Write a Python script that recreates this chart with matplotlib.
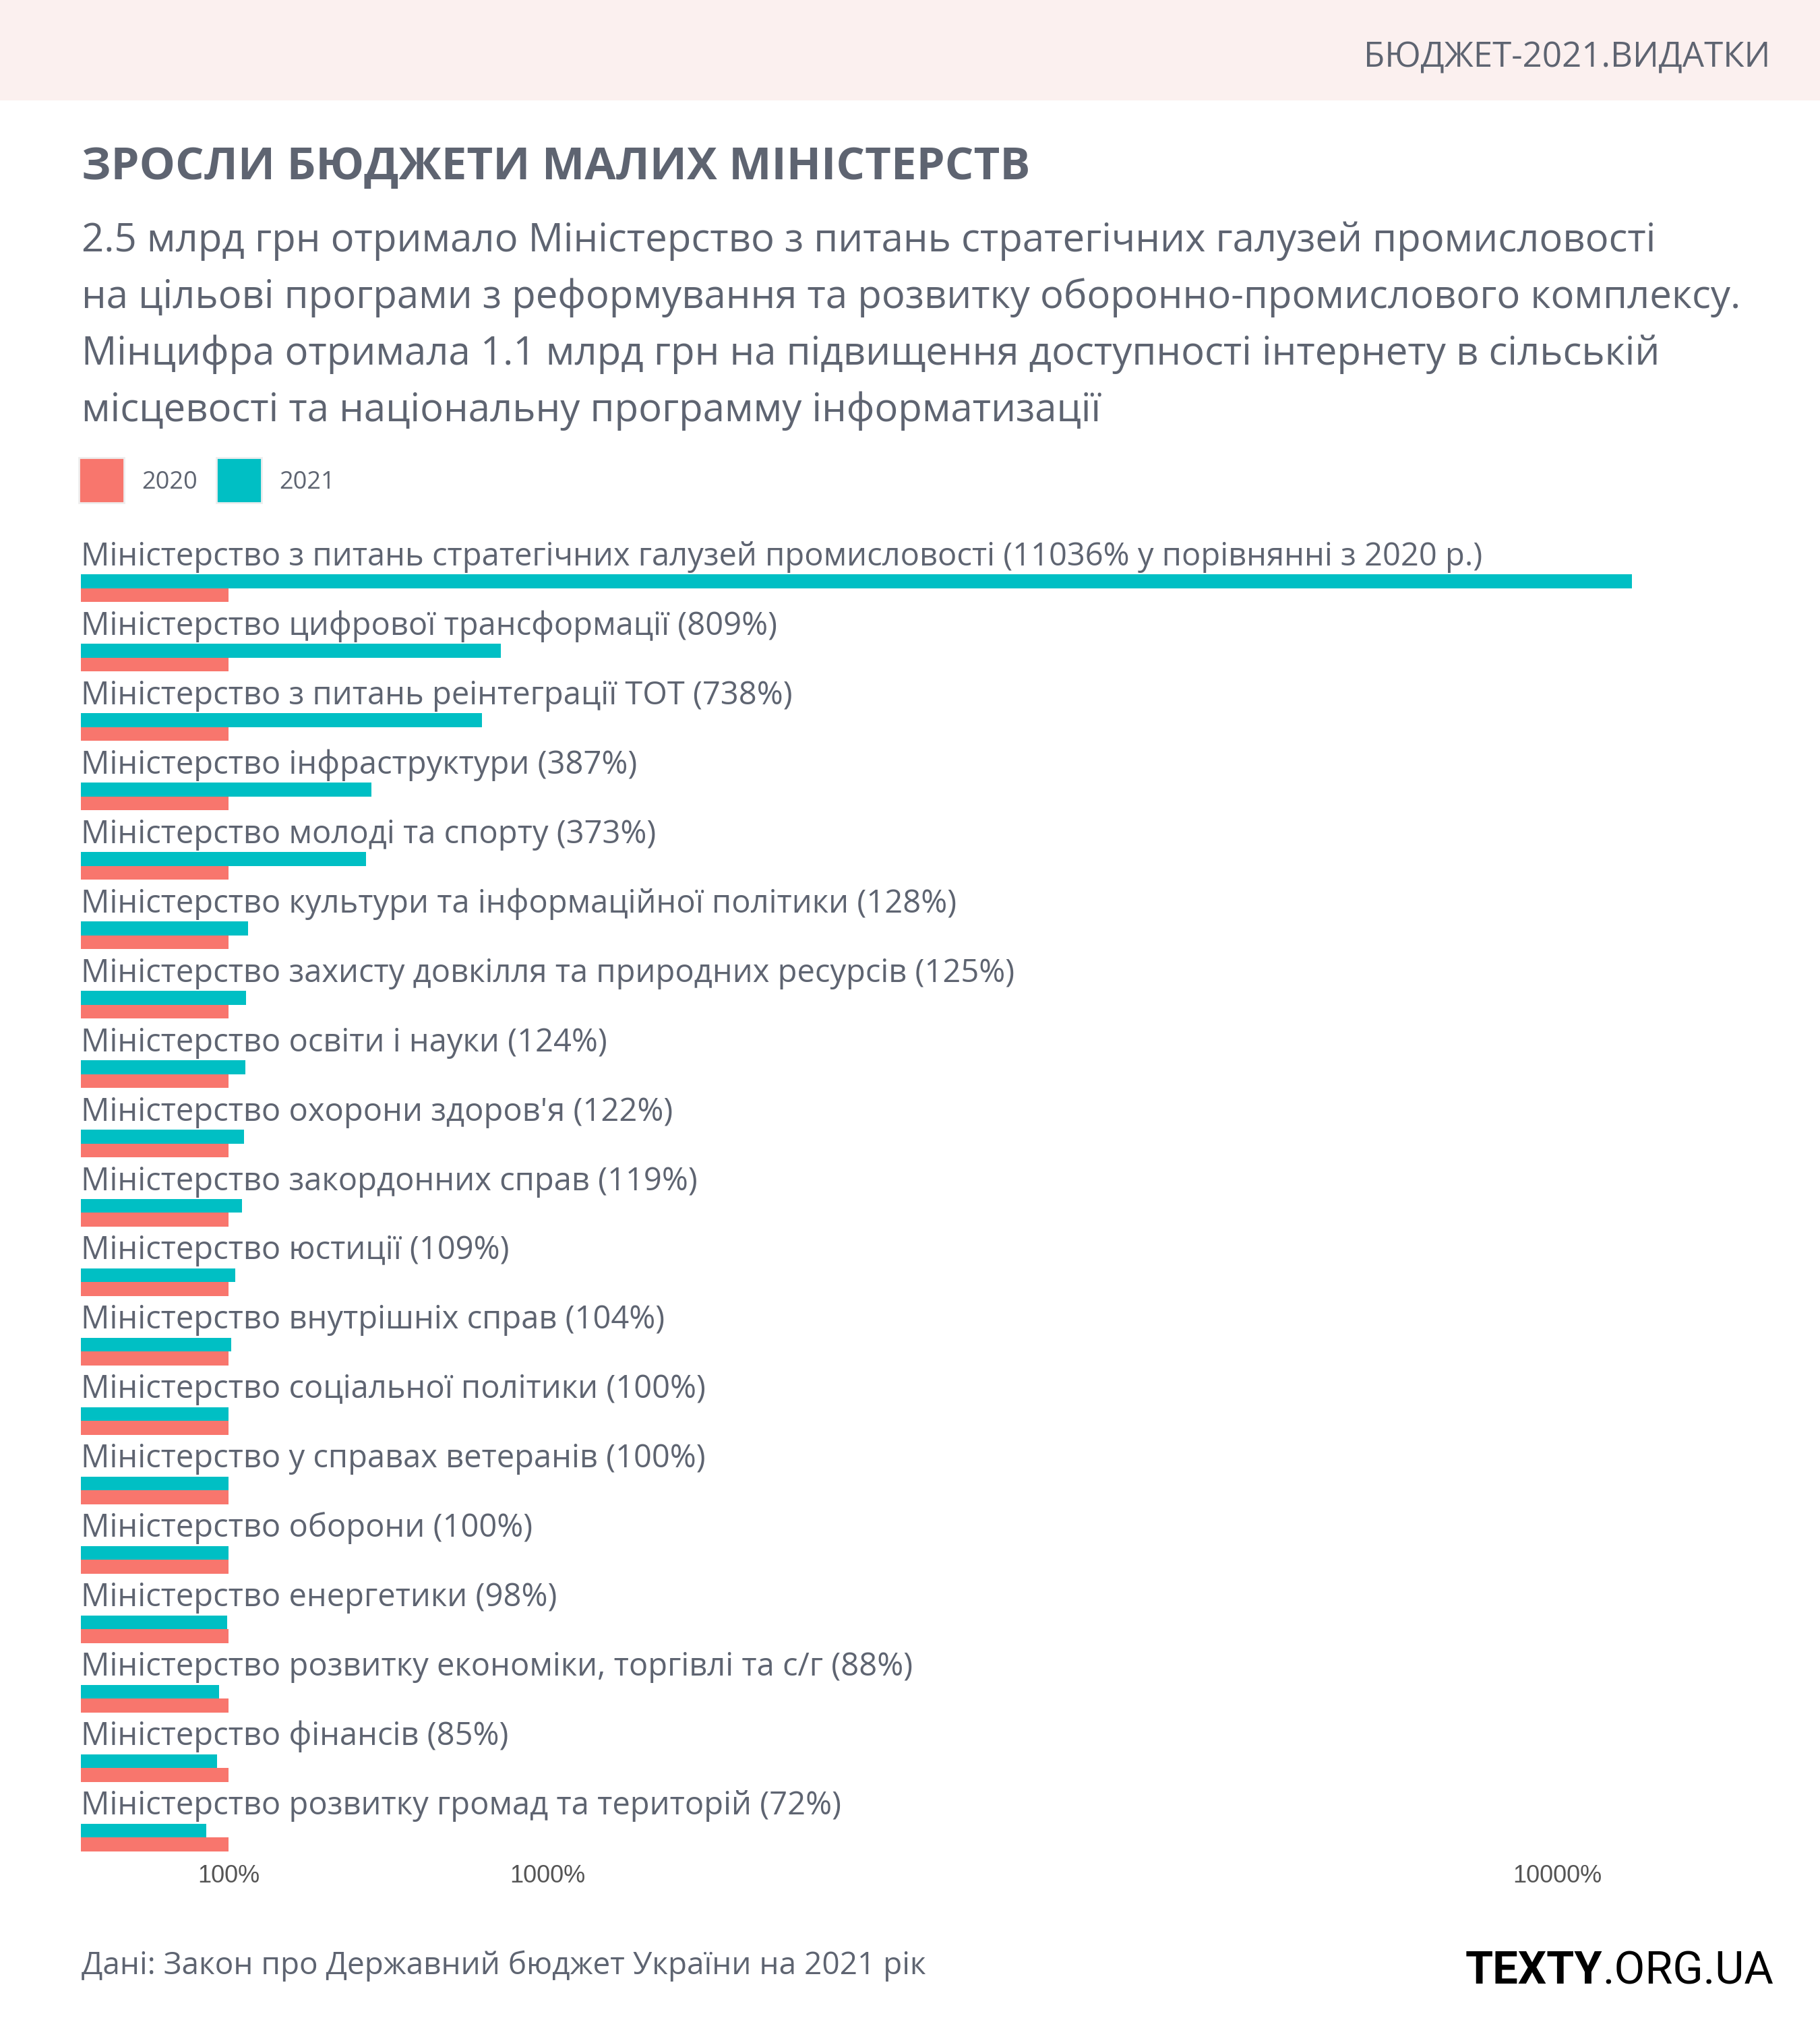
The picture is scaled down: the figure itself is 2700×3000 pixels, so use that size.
import matplotlib
matplotlib.use("Agg")
import matplotlib.pyplot as plt
from matplotlib.patches import Rectangle
import numpy as np

# data
ministries = [
    "Міністерство з питань стратегічних галузей промисловості",
    "Міністерство цифрової трансформації",
    "Міністерство з питань реінтеграції ТОТ",
    "Міністерство інфраструктури",
    "Міністерство молоді та спорту",
    "Міністерство культури та інформаційної політики",
    "Міністерство захисту довкілля та природних ресурсів",
    "Міністерство освіти і науки",
    "Міністерство охорони здоров'я",
    "Міністерство закордонних справ",
    "Міністерство юстиції",
    "Міністерство внутрішніх справ",
    "Міністерство соціальної політики",
    "Міністерство у справах ветеранів",
    "Міністерство оборони",
    "Міністерство енергетики",
    "Міністерство розвитку економіки, торгівлі та с/г",
    "Міністерство фінансів",
    "Міністерство розвитку громад та територій",
]
pct_2021 = [11036, 809, 738, 387, 373, 128, 125, 124, 122, 119, 109, 104, 100, 100, 100, 98, 88, 85, 72]
pct_2020 = [100] * len(ministries)
first_note = " у порівнянні з 2020 р."
xticks = [100, 1000, 10000]
xtick_labels = ["100%", "1000%", "10000%"]

title = "ЗРОСЛИ БЮДЖЕТИ МАЛИХ МІНІСТЕРСТВ"
subtitle = [
    "2.5 млрд грн отримало Міністерство з питань стратегічних галузей промисловості",
    "на цільові програми з реформування та розвитку оборонно-промислового комплексу.",
    "Мінцифра отримала 1.1 млрд грн на підвищення доступності інтернету в сільській",
    "місцевості та національну программу інформатизації",
]
footer = "Дані: Закон про Державний бюджет України на 2021 рік"

W, H, DPI = 2700, 3000, 100
TEXT = "#5e6471"
RED = "#f8766d"
TEAL = "#00bfc4"
FONT = "Open Sans"


def fx(x):
    return x / W


def fy(y):
    return 1 - y / H


fig = plt.figure(figsize=(W / DPI, H / DPI), dpi=DPI, facecolor="white")

# header band
fig.add_artist(Rectangle((0, fy(149)), 1, 149 / H, transform=fig.transFigure,
                         facecolor="#fbf0ef", edgecolor="none", zorder=0))
fig.text(fx(2626), fy(99), "БЮДЖЕТ-2021.ВИДАТКИ", ha="right", va="baseline",
         fontsize=36.8, color=TEXT, family=FONT)

# title and subtitle
fig.text(fx(121), fy(266), title, ha="left", va="baseline", fontsize=48.3,
         weight="bold", color=TEXT, family=FONT)
for k, line in enumerate(subtitle):
    fig.text(fx(121), fy(373 + k * 84), line, ha="left", va="baseline",
             fontsize=41.9, color=TEXT, family=FONT)

# legend
for x0, col, lab in [(117, RED, "2020"), (321, TEAL, "2021")]:
    fig.add_artist(Rectangle((fx(x0), fy(746)), 67 / W, 67 / H, transform=fig.transFigure,
                             facecolor=col, edgecolor="#eeeeee", linewidth=2))
    fig.text(fx(x0 + 93), fy(725), lab, ha="left", va="baseline", fontsize=26,
             color=TEXT, family=FONT)

# bars
ax = fig.add_axes([fx(120), fy(2760), fx(2600) - fx(120), (2760 - 780) / H])
ax.set_xscale("function", functions=(np.sqrt, np.square))
y = np.arange(len(ministries))
bh = 0.199
ax.barh(y - bh / 2, pct_2021, height=bh, color=TEAL)
ax.barh(y + bh / 2, pct_2020, height=bh, color=RED)

for i, (name, v) in enumerate(zip(ministries, pct_2021)):
    note = first_note if i == 0 else ""
    ax.text(0, i - 0.33, f"{name} ({v}%{note})", ha="left", va="baseline",
            fontsize=33.9, color=TEXT, family=FONT)

ax.set_xlim(0, 12824)
ax.set_ylim(18.33, -0.903)
ax.set_yticks([])
ax.set_xticks(xticks)
ax.set_xticklabels(xtick_labels, fontsize=26, color="#555555", family="Liberation Sans")
ax.tick_params(axis="x", length=0, pad=4)
for s in ax.spines.values():
    s.set_visible(False)
ax.set_facecolor("none")

# footer
fig.text(fx(121), fy(2929), footer, ha="left", va="baseline", fontsize=33.1,
         color=TEXT, family=FONT)
fig.canvas.draw()
r = fig.canvas.get_renderer()
t2 = fig.text(fx(2631), fy(2943), ".ORG.UA", ha="right", va="baseline", fontsize=48,
              color="black", family="Roboto")
bb = t2.get_window_extent(r)
fig.text(bb.x0 / W, fy(2943), "TEXTY", ha="right", va="baseline", fontsize=48,
         weight="bold", color="black", family="Roboto")

fig.savefig("out.png", dpi=DPI)
